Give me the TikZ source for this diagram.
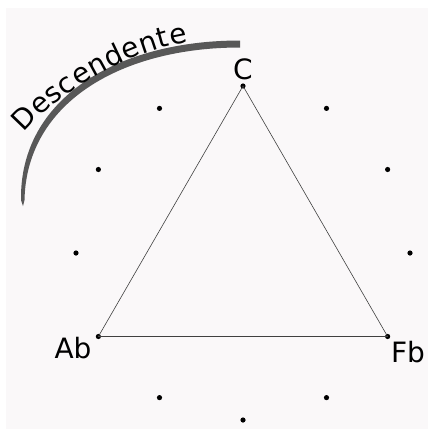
\documentclass[tikz,border=0pt]{standalone}
\usepackage{fontspec}
\setmainfont{DejaVu Sans}
\usetikzlibrary{decorations.text}
\definecolor{bgpaper}{RGB}{250,248,249}
\definecolor{arcgray}{RGB}{88,88,88}
\tikzset{
  dot/.style={circle, fill=black, inner sep=0pt, minimum size=5.2pt},
  lbl/.style={font=\fontsize{28}{28}\selectfont, inner sep=0pt},
  edge/.style={draw=black!75, line width=0.6pt},
}

\begin{document}
\begin{tikzpicture}[x=1pt, y=-1pt]
  \useasboundingbox (0,0) rectangle (428,429);
  \fill[bgpaper] (6,8) rectangle (428,429);
  \coordinate (ctr) at (243,253);
  \foreach \i in {0,...,11}
    \path (ctr) ++(-90+30*\i:167) node[dot] (d\i) {};
  \draw[edge] (d0.center) -- (d4.center) -- (d8.center) -- cycle;
  \node[lbl] (lC) at (243,69) {C};
  \node[lbl] (lAb) at (73,348) {Ab};
  \node[lbl] (lFb) at (408,352) {Fb};
  \fill[arcgray] (240,40.5) .. controls (118,40.5) and (19.5,98) .. (21,200)
    -- (23,206) -- (24.5,200) .. controls (26.5,102) and (122,47.5) .. (240,47.5) -- cycle;
  \path[decorate, decoration={text along path, text align=fit to path,
      text={|\fontsize{28}{28}\selectfont|Descendente}}]
    (24,133) .. controls (60,91) and (130,51) .. (188,42);
\end{tikzpicture}
\end{document}
